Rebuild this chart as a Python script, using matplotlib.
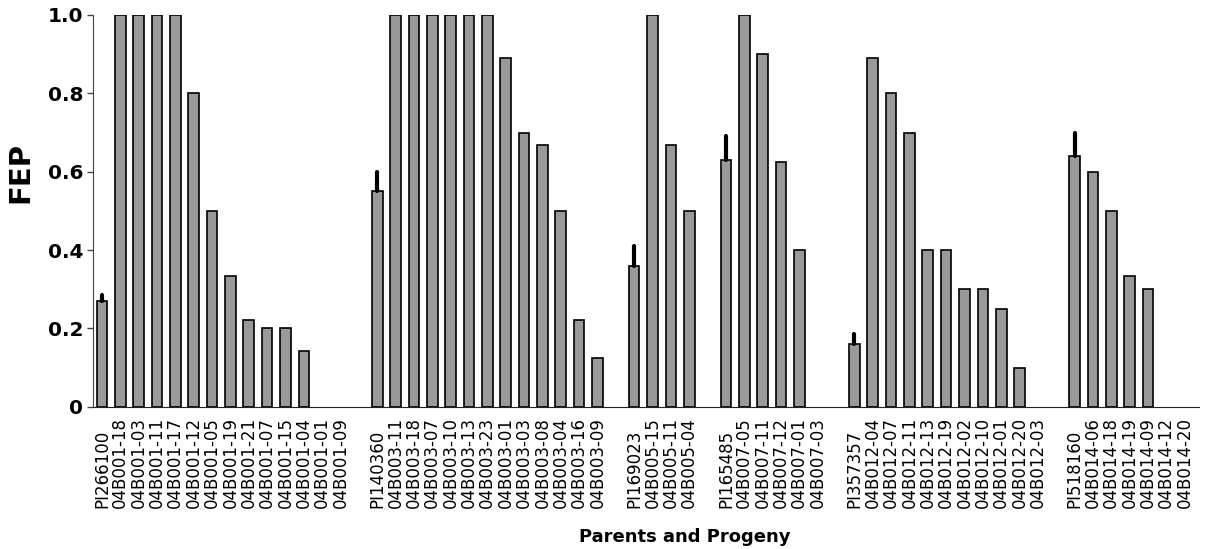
import matplotlib
matplotlib.use('AGG')
import matplotlib.pyplot as plt
import numpy as np

# parents (one per family) with FEP and upper error
parents = ['PI266100', 'PI140360', 'PI169023', 'PI165485', 'PI357357', 'PI518160']
parent_fep = [0.27, 0.55, 0.36, 0.63, 0.16, 0.64]
parent_err = [0.015, 0.05, 0.05, 0.06, 0.025, 0.06]

# progeny per family
progeny = [
    ['04B001-18', '04B001-03', '04B001-11', '04B001-17', '04B001-12', '04B001-05', '04B001-19',
     '04B001-21', '04B001-07', '04B001-15', '04B001-04', '04B001-01', '04B001-09'],
    ['04B003-11', '04B003-18', '04B003-07', '04B003-10', '04B003-13', '04B003-23', '04B003-01',
     '04B003-03', '04B003-08', '04B003-04', '04B003-16', '04B003-09'],
    ['04B005-15', '04B005-11', '04B005-04'],
    ['04B007-05', '04B007-11', '04B007-12', '04B007-01', '04B007-03'],
    ['04B012-04', '04B012-07', '04B012-11', '04B012-13', '04B012-19', '04B012-02', '04B012-10',
     '04B012-01', '04B012-20', '04B012-03'],
    ['04B014-06', '04B014-18', '04B014-19', '04B014-09', '04B014-12', '04B014-20'],
]
progeny_fep = [
    [1.0, 1.0, 1.0, 1.0, 0.8, 0.5, 0.333, 0.222, 0.2, 0.2, 0.143, 0.0, 0.0],
    [1.0, 1.0, 1.0, 1.0, 1.0, 1.0, 0.89, 0.70, 0.667, 0.5, 0.222, 0.125],
    [1.0, 0.667, 0.5],
    [1.0, 0.90, 0.625, 0.40, 0.0],
    [0.89, 0.80, 0.70, 0.40, 0.40, 0.30, 0.30, 0.25, 0.10, 0.0],
    [0.60, 0.50, 0.333, 0.30, 0.0, 0.0],
]

# lay out families with one empty slot between them
labels, vals, errs, xs = [], [], [], []
pos = 0
for i, p in enumerate(parents):
    labels.append(p); vals.append(parent_fep[i]); errs.append(parent_err[i]); xs.append(pos)
    pos += 1
    for lab, v in zip(progeny[i], progeny_fep[i]):
        labels.append(lab); vals.append(v); errs.append(0); xs.append(pos)
        pos += 1
    pos += 1
xs = np.array(xs)
vals = np.array(vals)

fig = plt.figure(figsize=(12.12, 5.49), dpi=100)
ax = fig.add_axes([0.0767, 0.2592, 0.9126, 0.7135])

# zero bars are drawn without outline (nothing visible)
lws = [1.2 if v > 0 else 0 for v in vals]
ax.bar(xs, vals, width=0.58, color='#999999', edgecolor='k', linewidth=lws, zorder=2)
for i in range(len(xs)):
    if errs[i] > 0:
        ax.plot([xs[i], xs[i]], [vals[i], vals[i] + errs[i]], color='k', lw=3,
                solid_capstyle='round', zorder=3)

ax.set_xlim(-0.49, xs[-1] + 0.78)
ax.set_ylim(0, 1.0)
ax.set_yticks([0, 0.2, 0.4, 0.6, 0.8, 1.0])
ax.set_yticklabels(['0', '0.2', '0.4', '0.6', '0.8', '1.0'], fontsize=14.5, fontweight='bold')
ax.tick_params(axis='y', length=4, width=1, pad=3, color='#444444')
ax.set_xticks([])
for s in ['top', 'right']:
    ax.spines[s].set_visible(False)
ax.spines['left'].set_color('#444444')
ax.spines['bottom'].set_color('#222222')

# rotated labels, all starting at the same baseline
tr = matplotlib.transforms.blended_transform_factory(ax.transData, ax.transAxes)
ybase = -(508 - 406.7) / 391.4
for x, lab in zip(xs, labels):
    ax.text(x, ybase, lab, rotation=90, ha='center', va='bottom', fontsize=12,
            family='DejaVu Sans', transform=tr)

ax.set_ylabel('FEP', fontsize=21, fontweight='bold')
ax.yaxis.set_label_coords((34 - 93) / 1106, 0.597)
fig.text(685 / 1212, 1 - 537 / 549, 'Parents and Progeny', ha='center', va='center',
         fontsize=13, fontweight='bold')

plt.savefig('out.png', dpi=100)
